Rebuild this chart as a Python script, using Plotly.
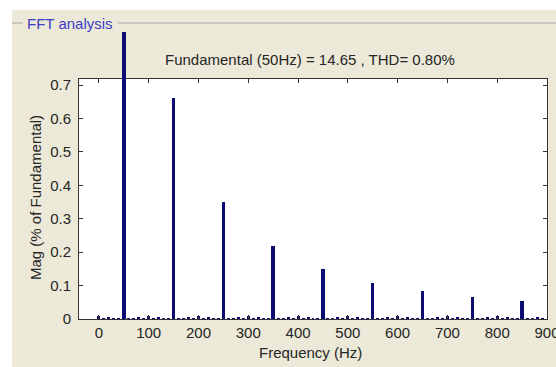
import plotly.graph_objects as go

# ---- data ----
harm_freq = [50, 150, 250, 350, 450, 550, 650, 750, 850]
harm_mag = [0.86, 0.662, 0.35, 0.218, 0.149, 0.107, 0.085, 0.067, 0.054]

small_freq = [0, 10, 20, 30, 40, 60, 70, 80, 90, 100, 110, 120, 130, 140,
              160, 170, 180, 190, 200, 210, 220, 230, 240,
              260, 270, 280, 290, 300, 310, 320, 330, 340,
              360, 370, 380, 390, 400, 410, 420, 430, 440,
              460, 470, 480, 490, 500, 510, 520, 530, 540,
              560, 570, 580, 590, 600, 610, 620, 630, 640,
              660, 670, 680, 690, 700, 710, 720, 730, 740,
              760, 770, 780, 790, 800, 810, 820, 830, 840,
              860, 870, 880, 890]
small_mag = [0.008, 0.003, 0.004, 0.003, 0.003, 0.003, 0.003, 0.004, 0.003, 0.008, 0.003, 0.004, 0.003, 0.003,
             0.003, 0.003, 0.004, 0.003, 0.008, 0.003, 0.004, 0.003, 0.003,
             0.003, 0.003, 0.004, 0.003, 0.008, 0.003, 0.004, 0.003, 0.003,
             0.003, 0.003, 0.004, 0.003, 0.008, 0.003, 0.004, 0.003, 0.003,
             0.003, 0.003, 0.004, 0.003, 0.008, 0.003, 0.004, 0.003, 0.003,
             0.003, 0.003, 0.004, 0.003, 0.008, 0.003, 0.004, 0.003, 0.003,
             0.003, 0.003, 0.004, 0.003, 0.008, 0.003, 0.004, 0.003, 0.003,
             0.003, 0.003, 0.004, 0.003, 0.008, 0.003, 0.004, 0.003, 0.003,
             0.003, 0.003, 0.004, 0.003]

x_ticks = [0, 100, 200, 300, 400, 500, 600, 700, 800, 900]
y_ticks = [0, 0.1, 0.2, 0.3, 0.4, 0.5, 0.6, 0.7]
y_tick_text = ["0", "0.1", "0.2", "0.3", "0.4", "0.5", "0.6", "0.7"]
title_text = "Fundamental (50Hz) = 14.65 , THD= 0.80%"
panel_text = "FFT analysis"
x_label = "Frequency (Hz)"
y_label = "Mag (% of Fundamental)"

# ---- styles ----
BAR = "#0b0b72"
BEIGE = "#ECE9D8"
FONT = "Liberation Sans"
TXT = "#262626"
FS = 15

W, H = 556, 367
ML, MR, MT, MB = 79, 9, 31, 48
PW, PH = W - ML - MR, H - MT - MB
main_top_px = 79
split = (H - MB - main_top_px) / PH
y_top = 0.718
y2_top = y_top + (main_top_px - MT) / (H - MB - main_top_px) * y_top


def px_x(px):
    return (px - ML) / PW


def px_y(py):
    return (H - MB - py) / PH


fig = go.Figure()
for xa, ya in (("x", "y"), ("x2", "y2")):
    fig.add_trace(go.Bar(x=small_freq, y=small_mag, width=6, marker=dict(color=BAR, line=dict(width=0)),
                         xaxis=xa, yaxis=ya, showlegend=False, hoverinfo="x+y"))
    fig.add_trace(go.Bar(x=harm_freq, y=harm_mag, width=7, marker=dict(color=BAR, line=dict(width=0)),
                         xaxis=xa, yaxis=ya, showlegend=False, hoverinfo="x+y"))

axis_font = dict(family=FONT, size=FS, color=TXT)
fig.update_layout(
    width=W, height=H,
    margin=dict(l=ML, r=MR, t=MT, b=MB, pad=0, autoexpand=False),
    paper_bgcolor="white",
    plot_bgcolor="rgba(0,0,0,0)",
    barmode="overlay",
    bargap=0,
    xaxis=dict(range=[-40, 900], tickvals=x_ticks, ticktext=[str(v) for v in x_ticks],
               ticks="inside", ticklen=4, tickcolor="#333", showline=True, linecolor="#333",
               mirror="ticks", showgrid=False, zeroline=False, tickfont=axis_font,
               ticklabeloverflow="allow", automargin=False, anchor="y", domain=[0, 1]),
    yaxis=dict(range=[0, y_top], domain=[0, split], tickvals=y_ticks, ticktext=y_tick_text,
               ticks="inside", ticklen=4, tickcolor="#333", showline=True, linecolor="#333",
               mirror="ticks", showgrid=False, zeroline=False, tickfont=axis_font,
               ticklabeloverflow="allow", automargin=False, anchor="x", ticklabelstandoff=4),
    xaxis2=dict(matches="x", anchor="y2", visible=False, domain=[0, 1], automargin=False),
    yaxis2=dict(range=[y_top, y2_top], domain=[split, 1], visible=False, anchor="x2", automargin=False),
    font=dict(family=FONT, color=TXT),
)

fig.add_shape(type="rect", xref="paper", yref="paper",
              x0=px_x(12), x1=px_x(W + 5), y0=px_y(H + 5), y1=px_y(10),
              fillcolor=BEIGE, line=dict(width=0), layer="below")
fig.add_shape(type="rect", xref="x domain", yref="y domain", x0=0, x1=1, y0=0, y1=1,
              fillcolor="white", line=dict(width=0), layer="below")
fig.add_shape(type="line", xref="paper", yref="paper", x0=px_x(12), x1=px_x(23),
              y0=px_y(23), y1=px_y(23), line=dict(color="#a8a8a8", width=1), layer="below")
fig.add_shape(type="line", xref="paper", yref="paper", x0=px_x(118), x1=px_x(W + 5),
              y0=px_y(23), y1=px_y(23), line=dict(color="#a8a8a8", width=1), layer="below")

fig.add_annotation(text=panel_text, xref="paper", yref="paper", x=px_x(25), y=px_y(23),
                   xanchor="left", yanchor="middle", showarrow=False,
                   font=dict(family=FONT, size=FS, color="#3c3cc8"))
fig.add_annotation(text=title_text, xref="paper", yref="paper", x=px_x(310), y=px_y(60),
                   xanchor="center", yanchor="middle", showarrow=False,
                   font=dict(family=FONT, size=FS, color=TXT))
fig.add_annotation(text=y_label, xref="paper", yref="paper", x=px_x(35), y=px_y(198),
                   xanchor="center", yanchor="middle", textangle=-90, showarrow=False,
                   font=dict(family=FONT, size=FS, color=TXT))
fig.add_annotation(text=x_label, xref="paper", yref="paper", x=px_x(310), y=px_y(352),
                   xanchor="center", yanchor="middle", showarrow=False,
                   font=dict(family=FONT, size=FS, color=TXT))

fig.write_html("out.html")
